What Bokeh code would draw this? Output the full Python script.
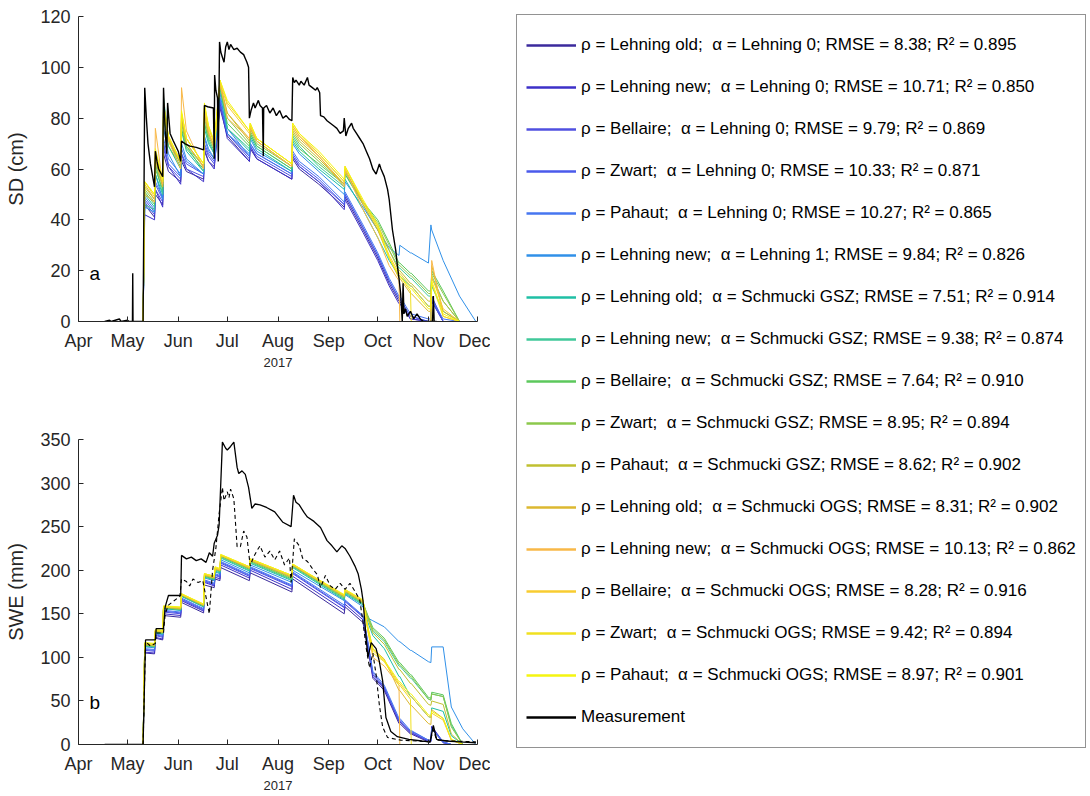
import numpy as np
import pandas as pd
from bokeh.plotting import figure
from bokeh.models import Range1d, FixedTicker, DatetimeTickFormatter, Legend, LegendItem, Label
from bokeh.layouts import row, column
from bokeh.embed import file_html
from bokeh.resources import INLINE

# ---------------- tick labels / categories ----------------
month_ticks = ["2017-04-01", "2017-05-01", "2017-06-01", "2017-07-01", "2017-08-01",
               "2017-09-01", "2017-10-01", "2017-11-01", "2017-12-01"]
sd_ticks = [0, 20, 40, 60, 80, 100, 120]
swe_ticks = [0, 50, 100, 150, 200, 250, 300, 350]

labels = [
    "ρ = Lehning old;  α = Lehning 0; RMSE = 8.38; R² = 0.895",
    "ρ = Lehning new;  α = Lehning 0; RMSE = 10.71; R² = 0.850",
    "ρ = Bellaire;  α = Lehning 0; RMSE = 9.79; R² = 0.869",
    "ρ = Zwart;  α = Lehning 0; RMSE = 10.33; R² = 0.871",
    "ρ = Pahaut;  α = Lehning 0; RMSE = 10.27; R² = 0.865",
    "ρ = Lehning new;  α = Lehning 1; RMSE = 9.84; R² = 0.826",
    "ρ = Lehning old;  α = Schmucki GSZ; RMSE = 7.51; R² = 0.914",
    "ρ = Lehning new;  α = Schmucki GSZ; RMSE = 9.38; R² = 0.874",
    "ρ = Bellaire;  α = Schmucki GSZ; RMSE = 7.64; R² = 0.910",
    "ρ = Zwart;  α = Schmucki GSZ; RMSE = 8.95; R² = 0.894",
    "ρ = Pahaut;  α = Schmucki GSZ; RMSE = 8.62; R² = 0.902",
    "ρ = Lehning old;  α = Schmucki OGS; RMSE = 8.31; R² = 0.902",
    "ρ = Lehning new;  α = Schmucki OGS; RMSE = 10.13; R² = 0.862",
    "ρ = Bellaire;  α = Schmucki OGS; RMSE = 8.28; R² = 0.916",
    "ρ = Zwart;  α = Schmucki OGS; RMSE = 9.42; R² = 0.894",
    "ρ = Pahaut;  α = Schmucki OGS; RMSE = 8.97; R² = 0.901",
]
colors = ["#3b2a9c", "#3d30c8", "#5050e0", "#4a5aeb", "#4676f0", "#3090e8",
          "#1fbfa5", "#40c89a", "#5cc85c", "#8cc84c", "#c0c030", "#dcb830",
          "#f8b848", "#f8cc30", "#f0e020", "#f5f510"]

# ---------------- model SD (cm) ----------------
sd_times = ["2017-05-10 12:00", "2017-05-11 12:00", "2017-05-17 12:00", "2017-05-18 00:00",
            "2017-05-22 12:00", "2017-05-23 00:00", "2017-05-26 00:00", "2017-06-02 12:00",
            "2017-06-03 00:00", "2017-06-06 00:00", "2017-06-16 12:00", "2017-06-17 00:00",
            "2017-06-19 12:00", "2017-06-23 00:00", "2017-06-26 12:00", "2017-07-01 00:00",
            "2017-07-14 12:00", "2017-07-15 00:00", "2017-07-19 00:00", "2017-08-09 12:00",
            "2017-08-10 00:00", "2017-08-14 00:00", "2017-08-26 00:00", "2017-09-10 12:00",
            "2017-09-11 00:00", "2017-09-22 00:00", "2017-10-01 00:00", "2017-10-08 00:00",
            "2017-10-14 00:00", "2017-10-14 12:00", "2017-10-21 00:00", "2017-10-21 12:00",
            "2017-11-01 00:00", "2017-11-02 12:00", "2017-11-03 00:00", "2017-11-10 00:00",
            "2017-11-20 00:00", "2017-11-30 00:00"]
sd_01 = [0, 46, 41, 50, 46, 66, 59, 55, 63, 59, 56, 67, 63, 61, 84, 73, 63, 68, 64, 56, 64, 60, 54, 45, 49, 36, 25, 15, 8, 8, 1, 1, 0, 0, 8, 0, 0, 0]
sd_02 = [0, 42, 40, 52, 45, 70, 61, 54, 66, 60, 55, 68, 63, 60, 86, 72, 63, 69, 64, 56, 65, 61, 55, 44, 48, 35, 24, 14, 7, 7, 1, 1, 0, 0, 10, 0, 0, 0]
sd_03 = [0, 47, 42, 52, 47, 68, 61, 56, 64, 60, 57, 69, 65, 62, 85, 74, 64, 69, 65, 57, 65, 61, 55, 46, 50, 37, 26, 16, 9, 9, 2, 2, 0, 0, 9, 0, 0, 0]
sd_04 = [0, 48, 43, 54, 48, 70, 62, 57, 66, 62, 58, 70, 66, 63, 87, 74, 65, 70, 66, 58, 66, 62, 56, 46, 50, 37, 26, 16, 9, 9, 2, 2, 0, 0, 8, 0, 0, 0]
sd_05 = [0, 49, 44, 55, 49, 72, 64, 58, 68, 63, 58, 72, 67, 64, 88, 76, 65, 70, 66, 58, 67, 63, 57, 47, 51, 38, 27, 17, 10, 10, 3, 3, 1, 1, 9, 1, 0, 0]
sd_06 = [0, 45, 43, 58, 48, 76, 66, 57, 70, 64, 58, 73, 68, 64, 90, 74, 66, 72, 67, 59, 70, 66, 59, 50, 55, 45, 36, 29, 26, 30, 27, 27, 23, 38, 36, 24, 10, 0]
sd_07 = [0, 50, 45, 58, 50, 82, 69, 60, 75, 67, 59, 76, 70, 66, 92, 76, 67, 73, 68, 59, 71, 67, 60, 52, 56, 44, 33, 24, 18, 18, 14, 14, 6, 6, 14, 4, 0, 0]
sd_08 = [0, 46, 44, 62, 50, 88, 72, 60, 80, 69, 59, 78, 71, 66, 95, 76, 68, 74, 69, 60, 73, 69, 61, 53, 58, 46, 36, 28, 21, 21, 17, 17, 10, 10, 18, 8, 0, 0]
sd_09 = [0, 51, 46, 60, 52, 80, 69, 61, 76, 68, 60, 78, 72, 67, 92, 78, 69, 74, 69, 60, 72, 68, 62, 54, 58, 47, 40, 31, 23, 23, 19, 19, 12, 12, 20, 12, 0, 0]
sd_10 = [0, 52, 47, 62, 53, 82, 71, 62, 78, 69, 61, 80, 73, 68, 93, 80, 70, 75, 70, 61, 74, 70, 63, 54, 59, 47, 39, 30, 22, 22, 18, 18, 11, 11, 19, 11, 0, 0]
sd_11 = [0, 53, 48, 63, 54, 83, 72, 62, 79, 70, 61, 82, 74, 69, 94, 82, 71, 76, 71, 61, 75, 71, 64, 54, 59, 47, 38, 28, 20, 20, 15, 15, 8, 8, 17, 8, 0, 0]
sd_12 = [0, 54, 48, 64, 53, 84, 72, 62, 80, 70, 61, 82, 74, 69, 93, 82, 72, 76, 71, 61, 76, 72, 65, 54, 60, 46, 36, 25, 17, 17, 11, 11, 4, 4, 22, 4, 0, 0]
sd_13 = [0, 50, 47, 76, 54, 86, 71, 60, 92, 75, 60, 84, 75, 68, 94, 80, 72, 77, 71, 61, 77, 73, 65, 53, 60, 44, 33, 22, 16, 0, 0, 0, 0, 0, 24, 2, 0, 0]
sd_14 = [0, 55, 49, 66, 55, 84, 72, 63, 82, 72, 62, 84, 76, 70, 94, 85, 74, 77, 72, 62, 77, 73, 66, 55, 61, 47, 37, 26, 19, 19, 14, 14, 6, 6, 18, 5, 0, 0]
sd_15 = [0, 55, 50, 67, 55, 85, 73, 63, 82, 72, 62, 85, 77, 70, 95, 86, 75, 78, 72, 62, 78, 74, 66, 55, 61, 47, 37, 25, 18, 18, 12, 0, 0, 0, 15, 2, 0, 0]
sd_16 = [0, 55, 50, 68, 56, 86, 73, 63, 83, 72, 62, 86, 77, 71, 95, 87, 75, 78, 72, 62, 78, 74, 67, 56, 61, 48, 38, 25, 18, 18, 13, 13, 5, 5, 16, 3, 0, 0]

# ---------------- model SWE (mm) ----------------
swe_times = ["2017-05-10 12:00", "2017-05-11 12:00", "2017-05-17 12:00", "2017-05-18 00:00",
             "2017-05-22 12:00", "2017-05-23 00:00", "2017-06-02 12:00", "2017-06-03 00:00",
             "2017-06-16 12:00", "2017-06-17 00:00", "2017-06-23 00:00", "2017-06-23 12:00",
             "2017-06-26 12:00", "2017-06-27 00:00", "2017-07-14 12:00", "2017-07-15 00:00",
             "2017-08-09 12:00", "2017-08-10 00:00", "2017-09-10 12:00", "2017-09-11 00:00",
             "2017-09-22 00:00", "2017-09-25 00:00", "2017-09-28 00:00", "2017-10-05 00:00",
             "2017-10-14 00:00", "2017-10-14 12:00", "2017-10-21 00:00", "2017-10-21 12:00",
             "2017-11-01 00:00", "2017-11-02 12:00", "2017-11-03 00:00", "2017-11-10 00:00",
             "2017-11-15 00:00", "2017-11-22 00:00", "2017-11-30 00:00"]
swe_01 = [0, 105, 104, 122, 120, 148, 146, 163, 151, 183, 180, 190, 188, 203, 188, 197, 175, 190, 150, 158, 140, 110, 76, 62, 24, 24, 12, 12, 3, 3, 20, 2, 0, 0, 0]
swe_02 = [0, 106, 105, 123, 121, 150, 148, 165, 153, 186, 182, 192, 190, 206, 191, 200, 178, 193, 154, 161, 143, 112, 78, 64, 26, 26, 13, 13, 4, 4, 21, 3, 0, 0, 0]
swe_03 = [0, 108, 107, 125, 123, 152, 150, 166, 154, 187, 183, 194, 192, 208, 193, 202, 181, 196, 157, 164, 146, 115, 80, 65, 27, 27, 14, 14, 4, 4, 18, 2, 0, 0, 0]
swe_04 = [0, 109, 108, 126, 124, 153, 151, 167, 155, 188, 184, 195, 193, 209, 194, 203, 182, 197, 158, 165, 147, 116, 82, 66, 28, 28, 15, 15, 5, 5, 19, 3, 0, 0, 0]
swe_05 = [0, 110, 109, 127, 125, 154, 152, 168, 156, 189, 185, 196, 194, 210, 195, 204, 183, 198, 160, 166, 148, 118, 84, 68, 30, 30, 16, 16, 5, 5, 18, 3, 0, 0, 0]
swe_06 = [0, 112, 111, 128, 126, 156, 154, 170, 158, 191, 188, 198, 196, 212, 197, 206, 186, 200, 165, 172, 158, 145, 142, 135, 118, 118, 108, 108, 95, 94, 112, 112, 43, 18, 0]
swe_07 = [0, 113, 112, 129, 127, 156, 154, 170, 158, 192, 189, 199, 197, 214, 199, 208, 188, 203, 166, 173, 160, 140, 125, 110, 78, 78, 55, 55, 32, 31, 42, 38, 10, 0, 0]
swe_08 = [0, 113, 112, 129, 127, 157, 155, 171, 159, 193, 190, 200, 198, 215, 200, 209, 189, 204, 167, 174, 161, 145, 130, 118, 90, 90, 76, 76, 52, 51, 58, 55, 22, 0, 0]
swe_09 = [0, 114, 113, 130, 128, 157, 155, 171, 159, 193, 190, 201, 199, 216, 201, 210, 190, 205, 168, 175, 162, 148, 134, 122, 94, 94, 80, 80, 54, 53, 60, 57, 24, 0, 0]
swe_10 = [0, 114, 113, 130, 128, 157, 155, 171, 159, 194, 191, 201, 199, 216, 202, 211, 191, 205, 169, 176, 163, 146, 132, 120, 92, 92, 78, 78, 52, 51, 58, 55, 20, 0, 0]
swe_11 = [0, 115, 114, 130, 129, 158, 156, 172, 160, 194, 191, 202, 200, 217, 202, 211, 192, 206, 170, 176, 163, 144, 128, 115, 86, 86, 70, 70, 46, 45, 50, 46, 12, 0, 0]
swe_12 = [0, 115, 114, 131, 129, 158, 156, 172, 160, 195, 192, 202, 200, 217, 203, 212, 193, 206, 170, 177, 164, 135, 110, 98, 62, 62, 45, 45, 24, 23, 40, 30, 5, 0, 0]
swe_13 = [0, 116, 115, 131, 130, 158, 157, 172, 160, 195, 192, 202, 200, 217, 203, 212, 193, 206, 171, 177, 164, 130, 100, 90, 68, 0, 0, 0, 0, 0, 0, 0, 0, 0, 0]
swe_14 = [0, 116, 115, 131, 130, 158, 157, 172, 161, 196, 193, 203, 201, 217, 204, 213, 194, 207, 171, 177, 165, 132, 108, 96, 70, 70, 55, 55, 32, 31, 36, 28, 5, 0, 0]
swe_15 = [0, 116, 115, 131, 130, 159, 157, 173, 161, 196, 193, 203, 201, 218, 204, 213, 194, 207, 171, 178, 165, 130, 105, 95, 68, 68, 52, 0, 0, 0, 0, 0, 0, 0, 0]
swe_16 = [0, 117, 116, 132, 131, 159, 158, 173, 161, 196, 193, 204, 202, 218, 204, 213, 194, 207, 172, 178, 166, 133, 110, 97, 72, 72, 58, 58, 34, 33, 38, 30, 6, 0, 0]

# ---------------- measurements ----------------
meas_sd_points = [
    ("2017-04-17", 0), ("2017-04-20", 0.5), ("2017-04-21", 0), ("2017-04-26", 1), ("2017-04-27", 0),
    ("2017-05-01", 0.5), ("2017-05-02", 0), ("2017-05-04 00:00", 0), ("2017-05-04 04:00", 19),
    ("2017-05-04 08:00", 0), ("2017-05-10 12:00", 0), ("2017-05-11 12:00", 92), ("2017-05-12 12:00", 80),
    ("2017-05-13 12:00", 70), ("2017-05-15", 62), ("2017-05-17 12:00", 53), ("2017-05-18", 67),
    ("2017-05-19", 63), ("2017-05-20", 60), ("2017-05-22 12:00", 57), ("2017-05-23", 92),
    ("2017-05-24", 75), ("2017-05-25", 66), ("2017-05-25 12:00", 86), ("2017-05-26 12:00", 78),
    ("2017-05-27", 74), ("2017-05-29", 71), ("2017-06-01", 67), ("2017-06-02 12:00", 63),
    ("2017-06-03", 71), ("2017-06-05", 70), ("2017-06-08", 69), ("2017-06-12", 68.5),
    ("2017-06-16 12:00", 67.5), ("2017-06-17", 85), ("2017-06-19", 84.5), ("2017-06-22 12:00", 84),
    ("2017-06-23", 64), ("2017-06-23 06:00", 97), ("2017-06-24", 91), ("2017-06-25", 88),
    ("2017-06-25 12:00", 63), ("2017-06-26 06:00", 110), ("2017-06-27", 106), ("2017-06-28", 104),
    ("2017-06-29", 102), ("2017-06-30", 108), ("2017-07-01", 110), ("2017-07-02", 107),
    ("2017-07-03", 109), ("2017-07-05", 107), ("2017-07-07", 107.5), ("2017-07-09", 106),
    ("2017-07-11", 105), ("2017-07-12", 103.5), ("2017-07-13", 102), ("2017-07-14", 100),
    ("2017-07-14 12:00", 80), ("2017-07-15 12:00", 83), ("2017-07-17", 86), ("2017-07-18", 84),
    ("2017-07-20", 87), ("2017-07-21", 85), ("2017-07-22 12:00", 84), ("2017-07-23", 65),
    ("2017-07-23 06:00", 84), ("2017-07-25", 85), ("2017-07-27", 82), ("2017-07-29", 84),
    ("2017-07-31", 81), ("2017-08-02", 83), ("2017-08-04", 80), ("2017-08-06", 81),
    ("2017-08-08", 79.5), ("2017-08-09 12:00", 79), ("2017-08-10", 96), ("2017-08-11", 94),
    ("2017-08-12", 95), ("2017-08-14", 93), ("2017-08-15", 94.5), ("2017-08-17", 93),
    ("2017-08-19", 96), ("2017-08-20", 93), ("2017-08-22", 92), ("2017-08-24", 91),
    ("2017-08-25", 92), ("2017-08-26 12:00", 90), ("2017-08-27", 81), ("2017-08-29", 80.5),
    ("2017-08-31", 79), ("2017-09-02", 78), ("2017-09-04", 77), ("2017-09-06", 76),
    ("2017-09-08", 74), ("2017-09-10", 75), ("2017-09-10 12:00", 80), ("2017-09-11 12:00", 73),
    ("2017-09-13", 76), ("2017-09-15", 78), ("2017-09-16", 76), ("2017-09-18", 74),
    ("2017-09-20", 72), ("2017-09-22", 70), ("2017-09-24", 67), ("2017-09-26", 64),
    ("2017-09-28", 60), ("2017-09-30", 58), ("2017-10-02", 62), ("2017-10-03", 60),
    ("2017-10-05", 57), ("2017-10-07", 52), ("2017-10-08", 48), ("2017-10-09", 42),
    ("2017-10-10", 36), ("2017-10-12", 28), ("2017-10-13", 22), ("2017-10-14", 17),
    ("2017-10-15", 11), ("2017-10-16", 0), ("2017-10-16 12:00", 15), ("2017-10-17", 3),
    ("2017-10-18", 5), ("2017-10-19", 2), ("2017-10-21", 4), ("2017-10-23", 1),
    ("2017-10-25", 3), ("2017-10-27", 1), ("2017-10-29", 0), ("2017-11-03 12:00", 0),
    ("2017-11-04", 10), ("2017-11-04 12:00", 0), ("2017-11-06", 0)]

meas_swe_points = [
    ("2017-04-17", 0), ("2017-05-10 12:00", 0), ("2017-05-12", 120), ("2017-05-18", 120),
    ("2017-05-18 12:00", 133), ("2017-05-23", 133), ("2017-05-24", 158), ("2017-05-26", 171),
    ("2017-06-02 12:00", 171), ("2017-06-03", 217), ("2017-06-06", 213), ("2017-06-09", 215),
    ("2017-06-12", 211), ("2017-06-15", 213), ("2017-06-18", 209), ("2017-06-20", 220),
    ("2017-06-22", 216), ("2017-06-23", 231), ("2017-06-25", 240), ("2017-06-26", 252),
    ("2017-06-28", 347), ("2017-06-30", 340), ("2017-07-01", 338), ("2017-07-03", 342),
    ("2017-07-05", 347), ("2017-07-07", 318), ("2017-07-08", 311), ("2017-07-10", 314),
    ("2017-07-12", 310), ("2017-07-14", 295), ("2017-07-16", 271), ("2017-07-18", 276),
    ("2017-07-21", 275), ("2017-07-25", 272), ("2017-07-30", 267), ("2017-08-04", 255),
    ("2017-08-09", 250), ("2017-08-10 12:00", 286), ("2017-08-12", 278), ("2017-08-14", 275),
    ("2017-08-17", 266), ("2017-08-19", 261), ("2017-08-23", 256), ("2017-08-27", 249),
    ("2017-08-31", 234), ("2017-09-03", 228), ("2017-09-06", 221), ("2017-09-09", 228),
    ("2017-09-11", 225), ("2017-09-14", 216), ("2017-09-17", 205), ("2017-09-19", 196),
    ("2017-09-21", 178), ("2017-09-22", 165), ("2017-09-24", 120), ("2017-09-25", 100),
    ("2017-09-27", 117), ("2017-09-30", 110), ("2017-10-02", 95), ("2017-10-04", 73),
    ("2017-10-06", 31), ("2017-10-09", 15), ("2017-10-13", 9), ("2017-10-20", 6),
    ("2017-10-28", 4), ("2017-11-02", 3), ("2017-11-04", 22), ("2017-11-06", 6),
    ("2017-11-12", 4), ("2017-11-20", 3), ("2017-11-30", 2)]

meas_swe_dashed_points = [
    ("2017-05-10 12:00", 0), ("2017-05-12", 118), ("2017-05-15", 113), ("2017-05-18", 116),
    ("2017-05-18 12:00", 128), ("2017-05-23", 128), ("2017-05-24", 150), ("2017-05-26", 160),
    ("2017-06-02", 170), ("2017-06-03", 190), ("2017-06-06", 187), ("2017-06-08", 182),
    ("2017-06-10", 190), ("2017-06-13", 186), ("2017-06-16", 188), ("2017-06-20", 150),
    ("2017-06-22", 200), ("2017-06-24", 225), ("2017-06-26", 265), ("2017-06-28", 295),
    ("2017-06-29", 280), ("2017-07-01", 290), ("2017-07-02", 283), ("2017-07-03", 293),
    ("2017-07-05", 282), ("2017-07-07", 227), ("2017-07-09", 227), ("2017-07-11", 245),
    ("2017-07-13", 238), ("2017-07-15", 205), ("2017-07-17", 215), ("2017-07-19", 222),
    ("2017-07-21", 228), ("2017-07-24", 215), ("2017-07-27", 222), ("2017-07-30", 212),
    ("2017-08-02", 222), ("2017-08-05", 206), ("2017-08-08", 214), ("2017-08-09", 186),
    ("2017-08-11", 236), ("2017-08-14", 228), ("2017-08-16", 214), ("2017-08-19", 210),
    ("2017-08-22", 202), ("2017-08-25", 195), ("2017-08-27", 180), ("2017-08-30", 194),
    ("2017-09-02", 182), ("2017-09-05", 178), ("2017-09-08", 185), ("2017-09-11", 178),
    ("2017-09-14", 185), ("2017-09-17", 176), ("2017-09-20", 166), ("2017-09-22", 140),
    ("2017-09-24", 110), ("2017-09-26", 88), ("2017-09-28", 105), ("2017-09-30", 80),
    ("2017-10-02", 45), ("2017-10-04", 20), ("2017-10-07", 8), ("2017-10-15", 5),
    ("2017-10-25", 4), ("2017-11-02", 3), ("2017-11-04", 17), ("2017-11-06", 5),
    ("2017-11-15", 4), ("2017-11-30", 3)]

sd_models = [sd_01, sd_02, sd_03, sd_04, sd_05, sd_06, sd_07, sd_08,
             sd_09, sd_10, sd_11, sd_12, sd_13, sd_14, sd_15, sd_16]
swe_models = [swe_01, swe_02, swe_03, swe_04, swe_05, swe_06, swe_07, swe_08,
              swe_09, swe_10, swe_11, swe_12, swe_13, swe_14, swe_15, swe_16]

# ---------------- styling helpers ----------------
FONT = "Liberation Sans"
AX = "#262626"


def to_dt(seq):
    return pd.to_datetime(list(seq), format="ISO8601")


def ms(s):
    return pd.Timestamp(s).value / 1e6


def make_panel(ylabel, yend, yticks, height, top, bottom):
    p = figure(width=490, height=height, x_axis_type="datetime",
               x_range=Range1d(ms("2017-04-01"), ms("2017-12-01")),
               y_range=Range1d(0, yend), toolbar_location=None, output_backend="svg",
               min_border_left=78, min_border_right=13, min_border_top=top,
               min_border_bottom=bottom)
    p.grid.visible = False
    p.outline_line_color = None
    p.background_fill_color = "white"
    p.xaxis.ticker = FixedTicker(ticks=[ms(m) for m in month_ticks])
    p.xaxis.formatter = DatetimeTickFormatter(days="%b", months="%b", years="%b",
                                              hours="%b", hourmin="%b")
    p.yaxis.ticker = FixedTicker(ticks=yticks)
    for ax in (p.xaxis[0], p.yaxis[0]):
        ax.axis_line_color = AX
        ax.axis_line_width = 1
        ax.major_tick_line_color = AX
        ax.major_tick_in = 5
        ax.major_tick_out = 0
        ax.minor_tick_line_color = None
        ax.major_label_text_font = FONT
        ax.major_label_text_font_size = "18px"
        ax.major_label_text_color = AX
        ax.axis_label_text_font = FONT
        ax.axis_label_text_font_style = "normal"
        ax.axis_label_text_color = AX
    p.xaxis.axis_label = "2017"
    p.xaxis.axis_label_text_font_size = "13px"
    p.xaxis.axis_label_standoff = 4
    p.xaxis.major_label_standoff = 9
    p.yaxis.axis_label = ylabel
    p.yaxis.axis_label_text_font_size = "20px"
    p.yaxis.axis_label_standoff = 10
    p.yaxis.major_label_standoff = 8
    return p


sd_t = to_dt(sd_times)
swe_t = to_dt(swe_times)

# ---------------- panel a ----------------
pa = make_panel("SD (cm)", 120, sd_ticks, 375, 16, 54)
for vals, c in zip(sd_models, colors):
    pa.line(x=sd_t, y=vals, line_color=c, line_width=1)
pa.line(x=to_dt(d for d, _ in meas_sd_points), y=[v for _, v in meas_sd_points],
        line_color="black", line_width=1.4)
pa.add_layout(Label(x=ms("2017-04-11"), y=19, text="a", text_font=FONT, text_font_size="19px",
                    text_color="black", text_align="center", text_baseline="middle"))

# ---------------- panel b ----------------
pb = make_panel("SWE (mm)", 350, swe_ticks, 421, 64, 52)
for vals, c in zip(swe_models, colors):
    pb.line(x=swe_t, y=vals, line_color=c, line_width=1)
pb.line(x=to_dt(d for d, _ in meas_swe_dashed_points),
        y=[v for _, v in meas_swe_dashed_points],
        line_color="black", line_width=1.1, line_dash="4 3")
pb.line(x=to_dt(d for d, _ in meas_swe_points), y=[v for _, v in meas_swe_points],
        line_color="black", line_width=1.3)
pb.add_layout(Label(x=ms("2017-04-11"), y=48, text="b", text_font=FONT, text_font_size="19px",
                    text_color="black", text_align="center", text_baseline="middle"))

# ---------------- legend panel ----------------
pl = figure(width=600, height=796, x_range=Range1d(0, 1), y_range=Range1d(0, 1),
            toolbar_location=None, output_backend="svg", min_border=0,
            x_axis_location=None, y_axis_location=None)
pl.grid.visible = False
pl.outline_line_color = None
items = []
for lab, c in zip(labels, colors):
    r = pl.line(x=[np.nan], y=[np.nan], line_color=c, line_width=2.5)
    items.append(LegendItem(label=lab, renderers=[r]))
rm = pl.line(x=[np.nan], y=[np.nan], line_color="black", line_width=2.5)
items.append(LegendItem(label="Measurement", renderers=[rm]))
legend = Legend(items=items, location=(26, 48), padding=9, spacing=0, label_height=42,
                glyph_height=20, glyph_width=50, label_standoff=5, margin=0,
                border_line_color=AX, border_line_width=1, background_fill_color="white",
                background_fill_alpha=1, label_text_font=FONT, label_text_font_size="17px",
                label_text_color="black")
pl.add_layout(legend)

layout = row(column(pa, pb), pl)
open("out.html", "w").write(file_html(layout, INLINE))
